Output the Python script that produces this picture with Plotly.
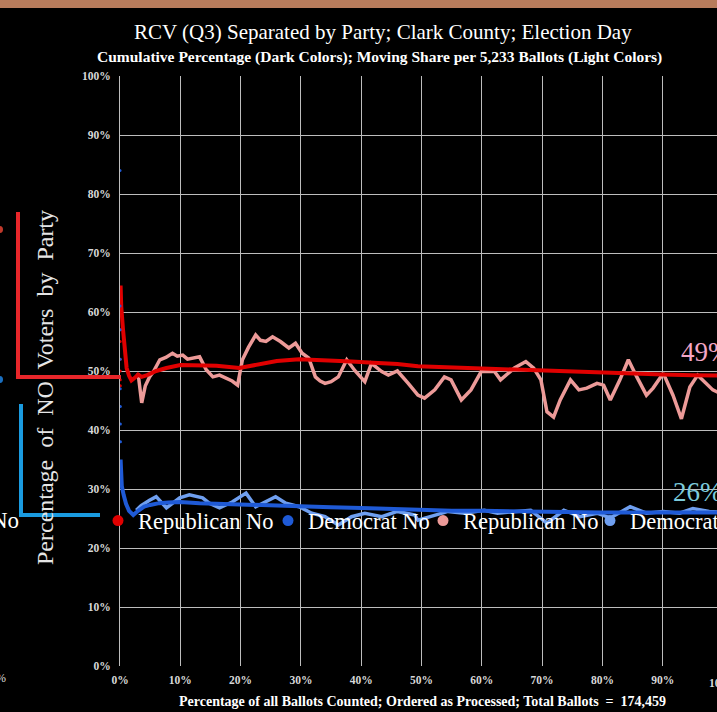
import plotly.graph_objects as go

# ---------------- data ----------------
rep_cum_x = [0.1, 0.2, 0.5, 0.8, 1.1, 1.5, 1.9, 2.4, 3.0, 3.6, 4.5, 6, 7.7, 10, 13.2, 16, 19.8, 23, 26, 29.7,
             33, 36, 38.4, 42, 46, 49.4, 55, 60, 65, 69.7, 75, 79, 85, 90, 95, 100]
rep_cum_y = [64.5, 61, 57, 53, 50.5, 49.2, 48.4, 48.8, 49.4, 49.0, 49.3, 50.0, 50.5, 51.0, 51.0, 50.9, 50.5, 51.2, 51.7, 52.0,
             51.9, 51.7, 51.6, 51.4, 51.2, 50.8, 50.6, 50.5, 50.3, 50.2, 49.9, 49.7, 49.5, 49.4, 49.3, 49.2]
rep_early_x = [0.004, 0.01, 0.016, 0.024, 0.03, 0.04, 0.05]
rep_early_y = [60, 57, 55, 52, 50, 48.5, 47.5]

dem_early_x = [0.002, 0.01, 0.02, 0.03, 0.04, 0.05, 0.06, 0.08]
dem_early_y = [84, 61, 57, 52, 47, 44, 41, 38]
dem_cum_x = [0.1, 0.3, 0.6, 1.0, 1.5, 2.2, 3, 4, 5, 6.5, 8, 10, 13.2, 16, 20, 24.2, 28, 32, 35, 40, 45, 48.9,
             55, 60, 65, 70, 75, 80, 85, 90, 95, 100]
dem_cum_y = [35, 30.5, 29, 27.5, 26.3, 25.6, 26.3, 27.0, 27.3, 27.6, 27.7, 27.8, 27.6, 27.5, 27.4, 27.2, 27.0, 26.9, 26.9,
             26.8, 26.6, 26.4, 26.3, 26.3, 26.2, 26.2, 26.1, 26.0, 26.0, 26.0, 26.0, 26.0]

rep_mov_x = [3.0, 3.6, 4.2, 4.9, 5.6, 6.6, 7.6, 8.7, 9.5, 10.4, 11.2, 12.1, 13.2, 14.3, 15.4, 16.5, 17.6, 18.6, 19.5,
             20.3, 21.3, 22.5, 23.3, 24.2, 25.3, 26.6, 28.0, 29.1, 30.2, 31.3, 32.4, 33.2, 34.0, 35.0, 36.2, 37.6,
             39.0, 40.6, 41.7, 43.4, 44.5, 46.0, 47.8, 49.4, 50.5, 52.2, 53.8, 54.9, 56.6, 58.2, 59.9, 62.1, 63.1,
             65.4, 67.3, 68.6, 69.8, 70.8, 71.9, 73.0, 74.7, 76.1, 77.4, 79.1, 80.2, 81.3, 82.9, 84.3, 85.7, 87.3,
             88.4, 90.1, 91.7, 93.1, 94.5, 95.8, 98.3, 100]
rep_mov_y = [49.6, 44.6, 47.5, 49.0, 50.0, 51.9, 52.3, 53.0, 52.5, 52.7, 52.0, 52.2, 52.4, 50.2, 49.0, 49.3, 48.8, 48.3,
             47.6, 51.9, 54.0, 56.1, 55.2, 55.0, 55.8, 55.0, 53.9, 54.7, 53.0, 52.2, 49.0, 48.3, 47.9, 48.2, 49.0,
             51.9, 50.0, 48.2, 51.3, 49.9, 49.3, 50.0, 47.9, 45.9, 45.4, 46.8, 49.0, 48.5, 45.1, 46.8, 49.9, 49.9,
             48.5, 50.5, 51.6, 50.5, 48.5, 43.1, 42.2, 45.1, 48.5, 46.8, 47.1, 47.9, 47.6, 45.1, 48.5, 51.9, 49.0,
             45.9, 47.1, 49.6, 45.9, 41.9, 47.3, 49.3, 46.8, 46.0]

dem_mov_x = [2.7, 3.5, 4.9, 6.0, 7.7, 8.8, 9.9, 11.5, 13.7, 14.8, 16.5, 18.6, 20.9, 22.5, 24.2, 25.8, 27.5, 29.7,
             31.8, 34.0, 36.2, 38.4, 40.6, 43.4, 46.0, 48.9, 49.4, 51.6, 54.4, 57.1, 60.4, 62.6, 65.4, 68.1, 70.8,
             73.6, 76.3, 79.1, 81.3, 84.6, 87.3, 90.1, 92.8, 95.0, 97.7, 100]
dem_mov_y = [26.4, 27.2, 28.1, 28.7, 26.8, 27.6, 28.5, 29.0, 28.5, 27.6, 26.8, 27.8, 29.3, 27.0, 27.8, 28.7, 27.6,
             27.0, 25.9, 25.3, 23.9, 25.3, 25.9, 25.3, 26.2, 25.6, 24.7, 25.3, 26.2, 25.9, 26.4, 25.9, 26.2, 26.4,
             24.2, 26.4, 25.3, 25.9, 25.1, 27.0, 25.9, 26.2, 25.9, 26.7, 26.2, 26.0]

legend_names = ["Republican No", "Democrat No", "Republican No", "Democrat No"]
x_ticks = [0, 10, 20, 30, 40, 50, 60, 70, 80, 90]
x_tick_text = ["0%", "10%", "20%", "30%", "40%", "50%", "60%", "70%", "80%", "90%"]
y_ticks = [0, 10, 20, 30, 40, 50, 60, 70, 80, 90, 100]
y_tick_text = ["0%", "10%", "20%", "30%", "40%", "50%", "60%", "70%", "80%", "90%", "100%"]
rep_final = 49
dem_final = 26

# ---------------- styling ----------------
RED = "#e00000"
PINK = "#ec9a98"
BLUE = "#1f5ad6"
LBLUE = "#6f9ff0"
SERIF = "Liberation Serif"

fig = go.Figure()

fig.add_trace(go.Scatter(x=rep_mov_x, y=rep_mov_y, mode="lines", line=dict(color=PINK, width=3.5),
                         showlegend=False, hoverinfo="skip"))
fig.add_trace(go.Scatter(x=dem_mov_x, y=dem_mov_y, mode="lines", line=dict(color=LBLUE, width=3.5),
                         showlegend=False, hoverinfo="skip"))
fig.add_trace(go.Scatter(x=rep_cum_x, y=rep_cum_y, mode="lines", line=dict(color=RED, width=4),
                         showlegend=False, hoverinfo="skip"))
fig.add_trace(go.Scatter(x=dem_cum_x, y=dem_cum_y, mode="lines", line=dict(color=BLUE, width=4),
                         showlegend=False, hoverinfo="skip"))
fig.add_trace(go.Scatter(x=rep_early_x, y=rep_early_y, mode="markers", marker=dict(color=RED, size=3),
                         showlegend=False, hoverinfo="skip"))
fig.add_trace(go.Scatter(x=dem_early_x, y=dem_early_y, mode="markers", marker=dict(color=BLUE, size=3),
                         showlegend=False, hoverinfo="skip"))

leg_colors = [RED, BLUE, PINK, LBLUE]
leg_ids = ["legend", "legend2", "legend3", "legend4"]
leg_dot_px = [120, 290, 445, 612]
for name, col, lid in zip(legend_names, leg_colors, leg_ids):
    fig.add_trace(go.Scatter(x=[None], y=[None], mode="markers", name=name,
                             marker=dict(color=col, size=11), legend=lid))

PLOT_L, PLOT_W = 120, 597
leg_common = dict(orientation="h", bgcolor="rgba(0,0,0,0)", borderwidth=0, itemwidth=30,
                  font=dict(family=SERIF, size=22.5, color="#ffffff"), yanchor="middle", y=0.2458,
                  xanchor="left")
layout_legends = {}
for lid, px in zip(leg_ids, leg_dot_px):
    d = dict(leg_common)
    d["x"] = (px - 22 - PLOT_L) / PLOT_W
    layout_legends[lid] = d

fig.update_layout(
    width=717, height=712,
    paper_bgcolor="#000000", plot_bgcolor="#000000",
    margin=dict(l=120, r=0, t=76, b=46, autoexpand=False),
    showlegend=True,
    **layout_legends,
    xaxis=dict(range=[0, 99.0], tickvals=x_ticks, ticktext=x_tick_text, showgrid=True,
               gridcolor="#bdbdbd", gridwidth=1, zeroline=False, showline=False, automargin=False,
               tickfont=dict(family=SERIF, size=11.5, color="#d8d8d8", weight="bold"), ticks="",
               ticklabelstandoff=5),
    yaxis=dict(range=[0, 100], tickvals=y_ticks, ticktext=y_tick_text, showgrid=True,
               gridcolor="#bdbdbd", gridwidth=1, zeroline=False, showline=True, linecolor="#bdbdbd",
               linewidth=1, automargin=False,
               tickfont=dict(family=SERIF, size=11.5, color="#d8d8d8", weight="bold"), ticks="",
               ticklabelstandoff=6),
)

annotations = [
    dict(text="RCV (Q3) Separated by Party; Clark County; Election Day", xref="paper", yref="paper",
         x=(383 - PLOT_L) / PLOT_W, y=(666 - 32) / 590, xanchor="center", yanchor="middle", showarrow=False,
         font=dict(family=SERIF, size=21, color="#ffffff")),
    dict(text="Cumulative Percentage (Dark Colors); Moving Share per 5,233 Ballots (Light Colors)", xref="paper",
         yref="paper", x=(379 - PLOT_L) / PLOT_W, y=(666 - 57) / 590, xanchor="center", yanchor="middle",
         showarrow=False, font=dict(family=SERIF, size=15.5, color="#ffffff", weight="bold")),
    dict(text="Percentage of all Ballots Counted; Ordered as Processed; Total Ballots  =  174,459", xref="paper",
         yref="paper", x=(422 - PLOT_L) / PLOT_W, y=(666 - 701) / 590, xanchor="center", yanchor="middle",
         showarrow=False, font=dict(family=SERIF, size=14, color="#ffffff", weight="bold")),
    dict(text="Percentage  of  NO  Voters  by  Party", xref="paper", yref="paper",
         x=(45 - PLOT_L) / PLOT_W, y=(666 - 388) / 590, xanchor="center", yanchor="middle", textangle=-90,
         showarrow=False, font=dict(family=SERIF, size=24, color="#e6e6e6")),
    dict(text="100%", xref="paper", yref="paper", x=100 / 99.0, y=0, xanchor="center", yanchor="top",
         yshift=-9, showarrow=False, font=dict(family=SERIF, size=11.5, color="#d8d8d8", weight="bold")),
    dict(text=f"{rep_final}%", xref="paper", yref="y", x=(679 - PLOT_L) / PLOT_W, y=(666 - 352) / 5.9,
         xanchor="left", yanchor="middle", showarrow=False, font=dict(family=SERIF, size=27, color="#f3a6c6")),
    dict(text=f"{dem_final}%", xref="paper", yref="y", x=(671 - PLOT_L) / PLOT_W, y=(666 - 492) / 5.9,
         xanchor="left", yanchor="middle", showarrow=False, font=dict(family=SERIF, size=27, color="#7ccbdc")),
    dict(text="No", xref="paper", yref="paper", x=(21 - PLOT_L) / PLOT_W, y=0.2458, xanchor="right",
         yanchor="middle", showarrow=False, font=dict(family=SERIF, size=23, color="#ffffff")),
    dict(text="%", xref="paper", yref="paper", x=(8 - PLOT_L) / PLOT_W, y=(666 - 678) / 590, xanchor="right",
         yanchor="middle", showarrow=False, font=dict(family=SERIF, size=12, color="#d8d8d8")),
]
fig.update_layout(annotations=annotations)

def px_x(p):
    return (p - PLOT_L) / PLOT_W

shapes = [
    dict(type="rect", xref="paper", yref="paper", x0=px_x(0), x1=px_x(717), y0=(666 - 8) / 590,
         y1=(666 + 2) / 590, fillcolor="#b87c5c", line=dict(width=0), layer="above"),
    dict(type="path", xref="paper", yref="paper",
         path=f"M {px_x(18)} {(666 - 212) / 590} L {px_x(18)} {rep_final / 100} L {px_x(121)} {rep_final / 100}",
         line=dict(color="#e8262a", width=4)),
    dict(type="path", xref="paper", yref="paper",
         path=f"M {px_x(21)} {(666 - 404) / 590} L {px_x(21)} {dem_final / 100 - 0.004} L {px_x(100)} {dem_final / 100 - 0.004}",
         line=dict(color="#1a9be0", width=4)),
    dict(type="circle", xref="paper", yref="paper", x0=px_x(-4), x1=px_x(3), y0=(666 - 233) / 590,
         y1=(666 - 226) / 590, fillcolor="#c0392b", line=dict(width=0)),
    dict(type="circle", xref="paper", yref="paper", x0=px_x(-4), x1=px_x(3), y0=(666 - 383) / 590,
         y1=(666 - 376) / 590, fillcolor="#1a6fc0", line=dict(width=0)),
]
fig.update_layout(shapes=shapes)

fig.write_html("out.html", config={"displayModeBar": False},
               post_script="document.body.style.margin='0';document.body.style.background='#000';")
